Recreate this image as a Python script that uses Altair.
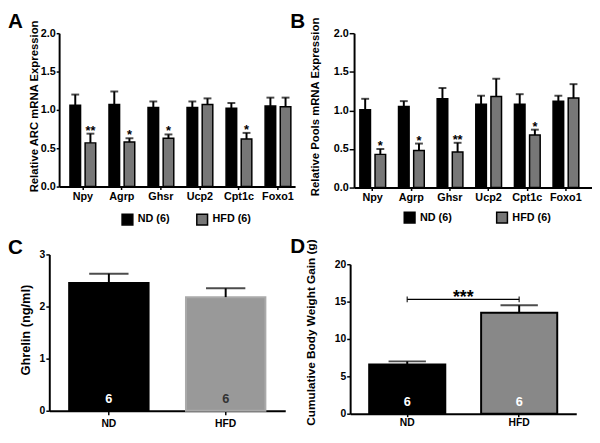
import altair as alt
import pandas as pd

FONT = "Liberation Sans"

# ---------------- data ----------------
genes = ["Npy", "Agrp", "Ghsr", "Ucp2", "Cpt1c", "Foxo1"]
diet_ab = ["ND (6)", "HFD (6)"]

a_nd_mean = [1.06, 1.07, 1.03, 1.03, 1.02, 1.05]
a_nd_upper = [1.20, 1.24, 1.11, 1.11, 1.09, 1.16]
a_hfd_mean = [0.57, 0.58, 0.63, 1.07, 0.62, 1.04]
a_hfd_upper = [0.69, 0.63, 0.68, 1.15, 0.70, 1.16]
a_hfd_stars = ["**", "*", "*", "", "*", ""]

b_nd_mean = [1.01, 1.05, 1.15, 1.08, 1.08, 1.12]
b_nd_upper = [1.15, 1.12, 1.29, 1.19, 1.21, 1.19]
b_hfd_mean = [0.43, 0.48, 0.46, 1.18, 0.68, 1.16]
b_hfd_upper = [0.50, 0.57, 0.58, 1.41, 0.75, 1.34]
b_hfd_stars = ["*", "*", "**", "", "*", ""]

diet_cd = ["ND", "HFD"]
n_cd = ["6", "6"]
c_mean = [2.45, 2.18]
c_upper = [2.63, 2.35]
d_mean = [6.6, 13.5]
d_upper = [7.0, 14.5]
d_sig_level = 15.3
d_sig_text = "***"

# ---------------- helpers ----------------
X_PAD_IN = 0.34


def gene_df(nd_mean, nd_up, hfd_mean, hfd_up, stars):
    rows = []
    for i, g in enumerate(genes):
        rows.append(dict(gene=g, diet=diet_ab[0], mean=nd_mean[i], upper=nd_up[i], star=""))
        rows.append(dict(gene=g, diet=diet_ab[1], mean=hfd_mean[i], upper=hfd_up[i], star=stars[i]))
    return pd.DataFrame(rows)


def letter_layer(letter, dx, dy):
    return alt.Chart(pd.DataFrame({"t": [letter]})).mark_text(
        align="left", baseline="top", fontSize=21, fontWeight="bold", font=FONT, color="black"
    ).encode(text="t:N", x=alt.value(dx), y=alt.value(dy))


def gene_panel(df, letter, ytitle, w, h, lx, ly, colpad, ldx, ldy, ytick, tpad, tshift,
               xpo, xalign, yoff):
    xs = alt.X(
        "gene:N", sort=genes,
        scale=alt.Scale(domain=genes, paddingInner=X_PAD_IN, paddingOuter=xpo, align=xalign),
        axis=alt.Axis(title=None, labelAngle=0, labelFontSize=11, labelFontWeight="bold",
                      tickSize=3, tickWidth=1.5, domainWidth=2, labelPadding=1,
                      domainDash=[0, -yoff, 600, 0]),
    )
    xo = alt.XOffset("diet:N", sort=diet_ab,
                     scale=alt.Scale(domain=diet_ab, paddingInner=0.3, paddingOuter=0))
    yvals = [0, 0.5, 1, 1.5, 2]
    ys = alt.Y(
        "mean:Q", scale=alt.Scale(domain=[0, 2], nice=False),
        axis=alt.Axis(title=ytitle, values=yvals, tickCount=len(yvals), format=".1f",
                      labelOverlap=False, labelFontSize=11, labelFontWeight="bold",
                      titleFontSize=11.5, titleFontWeight="bold", tickSize=ytick,
                      tickWidth=1.5, domainWidth=2, labelPadding=1, titlePadding=tpad,
                      titleY=h / 2 - tshift, offset=yoff),
    )
    base = alt.Chart(df)
    bars = base.mark_bar(stroke="black", strokeWidth=1.5).encode(
        x=xs, xOffset=xo, y=ys,
        fill=alt.Fill("diet:N", sort=diet_ab,
                      scale=alt.Scale(domain=diet_ab, range=["#000000", "#777777"]),
                      legend=alt.Legend(orient="none", legendX=lx, legendY=ly,
                                        direction="horizontal", title=None,
                                        symbolType="square", symbolSize=120,
                                        symbolStrokeColor="black", symbolStrokeWidth=1.5,
                                        labelFontSize=11, labelFontWeight="bold",
                                        labelFont=FONT, columnPadding=colpad,
                                        labelOffset=4, padding=0)),
    )
    err = base.mark_rule(color="black", strokeWidth=2).encode(
        x=xs, xOffset=xo, y="mean:Q", y2="upper:Q")
    cap = base.mark_tick(color="black", thickness=2, size=8).encode(
        x=xs, xOffset=xo, y="upper:Q")
    stars = base.mark_text(fontSize=13, fontWeight="bold", font=FONT, baseline="alphabetic",
                           dy=1, color="black").encode(x=xs, xOffset=xo, y="upper:Q",
                                                       text="star:N")
    return alt.layer(bars, err, cap, stars, letter_layer(letter, ldx, ldy)).properties(
        width=w, height=h)


C_PAD_IN = 0.32
C_PAD_OUT = 0.17


def two_panel(mean, upper, letter, ytitle, domain, values, w, h, fills, strokes,
              ncolors, title_size, title_pad, tshift, ldx, ldy, cap_size, xtick, xpad,
              sig=None):
    df = pd.DataFrame({"diet": diet_cd, "mean": mean, "upper": upper, "n": n_cd})
    xs = alt.X(
        "diet:N", sort=diet_cd,
        scale=alt.Scale(domain=diet_cd, paddingInner=C_PAD_IN, paddingOuter=C_PAD_OUT),
        axis=alt.Axis(title=None, labelAngle=0, labelFontSize=10.5, labelFontWeight="bold",
                      tickSize=xtick, tickWidth=1.5, domainWidth=2, labelPadding=xpad),
    )
    ys = alt.Y(
        "mean:Q", scale=alt.Scale(domain=domain, nice=False),
        axis=alt.Axis(title=ytitle, values=values, tickCount=len(values), format="d",
                      labelOverlap=False, labelFontSize=10.5, labelFontWeight="bold",
                      titleFontSize=title_size, titleFontWeight="bold", tickSize=3.5,
                      tickWidth=1.5, domainWidth=2, labelPadding=1, titlePadding=title_pad,
                      titleY=h / 2 - tshift),
    )
    base = alt.Chart(df)
    bars = base.mark_bar(strokeWidth=2).encode(
        x=xs, y=ys,
        fill=alt.Fill("diet:N", sort=diet_cd, scale=alt.Scale(domain=diet_cd, range=fills),
                      legend=None),
        stroke=alt.Stroke("diet:N", sort=diet_cd,
                          scale=alt.Scale(domain=diet_cd, range=strokes), legend=None),
    )
    err = base.mark_rule(color="black", strokeWidth=2).encode(x=xs, y="mean:Q", y2="upper:Q")
    cap = base.mark_tick(color="black", thickness=2, size=cap_size).encode(x=xs, y="upper:Q")
    ntext = base.mark_text(fontSize=13, fontWeight="bold", font=FONT, baseline="alphabetic",
                           dy=-8).encode(
        x=xs, y=alt.datum(0), text="n:N",
        color=alt.Color("diet:N", sort=diet_cd,
                        scale=alt.Scale(domain=diet_cd, range=ncolors), legend=None),
    )
    layers = [bars, err, cap, ntext]
    if sig is not None:
        sdf = pd.DataFrame({"start": [diet_cd[0]], "end": [diet_cd[1]], "level": [sig],
                            "txt": [d_sig_text]})
        edf = pd.DataFrame({"pos": diet_cd, "level": [sig, sig]})
        sbase = alt.Chart(sdf)
        line = sbase.mark_rule(color="black", strokeWidth=1.5).encode(
            x=alt.X("start:N", sort=diet_cd, bandPosition=0.5),
            x2=alt.X2("end:N", bandPosition=0.5), y="level:Q")
        ends = alt.Chart(edf).mark_tick(color="black", thickness=1.5, size=6,
                                        orient="vertical").encode(
            x=alt.X("pos:N", sort=diet_cd), y="level:Q")
        step = w / (2 - C_PAD_IN + 2 * C_PAD_OUT)
        half_gap = step * C_PAD_IN / 2
        txt = sbase.mark_text(fontSize=18, fontWeight="bold", font=FONT,
                              baseline="alphabetic", dy=4, dx=half_gap, color="black").encode(
            x=alt.X("start:N", sort=diet_cd, bandPosition=1), y="level:Q", text="txt:N")
        layers += [line, ends, txt]
    layers.append(letter_layer(letter, ldx, ldy))
    return alt.layer(*layers).properties(width=w, height=h)


A = gene_panel(gene_df(a_nd_mean, a_nd_upper, a_hfd_mean, a_hfd_upper, a_hfd_stars),
               "A", "Relative ARC mRNA Expression", 250, 156, 73, 183, 24, -42, -22,
               3, 1, 4, 0.319, 0.83, -10)
B = gene_panel(gene_df(b_nd_mean, b_nd_upper, b_hfd_mean, b_hfd_upper, b_hfd_stars),
               "B", "Relative Pools mRNA Expression", 246, 157, 54, 181, 42, -61, -22,
               5, 13, 4, 0.30, 0.42, -4)
C = two_panel(c_mean, c_upper, "C", "Ghrelin (ng/ml)", [0, 3], [0, 1, 2, 3], 240, 159,
              ["#000000", "#999999"], ["#000000", "#aaaaaa"], ["#ffffff", "#333333"],
              13, 7, 3, -42, -17, 40, 4, 4)
D = two_panel(d_mean, d_upper, "D", "Cumulative Body Weight Gain (g)", [0, 20],
              [0, 5, 10, 15, 20], 230, 152,
              ["#000000", "#888888"], ["#000000", "#000000"], ["#ffffff", "#ffffff"],
              12, 17, 7, -61, -28, 38, 3, 1, sig=d_sig_level)

res = dict(fill="independent", stroke="independent", color="independent")

left = alt.vconcat(A, C, spacing=10).resolve_scale(**res).resolve_legend(**res)
right = alt.vconcat(B, D, spacing=11).resolve_scale(**res).resolve_legend(**res)

chart = alt.hconcat(left, right, spacing=-5).resolve_scale(**res).resolve_legend(**res).properties(
    padding=0, background="white"
).configure_view(stroke=None).configure_axis(
    grid=False, domainColor="black", tickColor="black", labelColor="black",
    titleColor="black", labelFont=FONT, titleFont=FONT
).configure_text(font=FONT)

chart.save("out.html", embed_options={"renderer": "svg", "actions": False})
